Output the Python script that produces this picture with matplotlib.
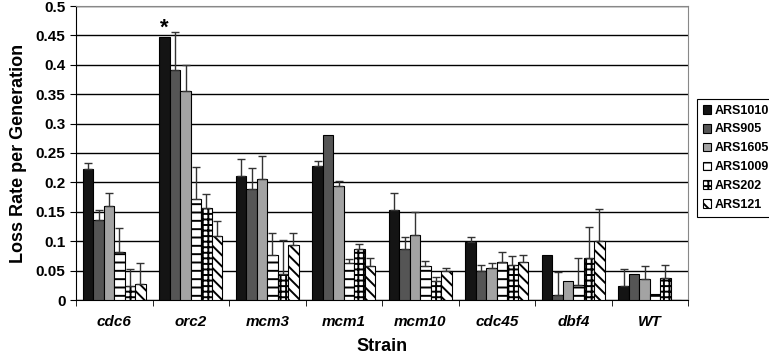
import numpy as np
import matplotlib
matplotlib.use("Agg")
import matplotlib.pyplot as plt

plt.rcParams['font.family'] = ['Liberation Sans', 'DejaVu Sans']
plt.rcParams['hatch.linewidth'] = 1.4

strains = ['cdc6', 'orc2', 'mcm3', 'mcm1', 'mcm10', 'cdc45', 'dbf4', 'WT']
series = ['ARS1010', 'ARS905', 'ARS1605', 'ARS1009', 'ARS202', 'ARS121']

# loss rate per generation, one list per ARS plasmid (order of strains)
ars1010 = [0.223, 0.448, 0.211, 0.228, 0.153, 0.098, 0.077, 0.024]
ars905 = [0.136, 0.392, 0.189, 0.280, 0.087, 0.049, 0.008, 0.045]
ars1605 = [0.160, 0.355, 0.206, 0.194, 0.111, 0.055, 0.032, 0.035]
ars1009 = [0.081, 0.171, 0.077, 0.063, 0.057, 0.065, 0.026, 0.010]
ars202 = [0.024, 0.157, 0.044, 0.087, 0.032, 0.060, 0.071, 0.038]
ars121 = [0.028, 0.109, 0.094, 0.057, 0.050, 0.065, 0.100, 0.0]

# upper error (std dev), nan where no bar is drawn
err1010 = [0.010, np.nan, 0.028, 0.008, 0.029, 0.009, np.nan, 0.028]
err905 = [0.017, 0.064, 0.035, np.nan, 0.020, 0.011, 0.040, np.nan]
err1605 = [0.022, 0.045, 0.039, 0.008, 0.038, 0.008, np.nan, 0.022]
err1009 = [0.041, 0.056, 0.037, 0.007, 0.010, 0.016, 0.045, np.nan]
err202 = [0.029, 0.024, 0.058, 0.008, 0.007, 0.014, 0.054, 0.022]
err121 = [0.035, 0.026, 0.020, 0.014, 0.004, 0.011, 0.055, np.nan]

values = [ars1010, ars905, ars1605, ars1009, ars202, ars121]
errors = [err1010, err905, err1605, err1009, err202, err121]
colors = ['#141414', '#555555', '#a3a3a3', 'white', 'white', 'white']
hatches = [None, None, None, '--', '+++', '\\\\\\']

fig = plt.figure(figsize=(7.69, 3.56), dpi=100)
ax = fig.add_axes([76/769, 1-300/356, (688-76)/769, (300-6)/356])

x = np.arange(len(strains))
w = 0.82 / 6
for i in range(6):
    pos = x - 0.41 + w * (i + 0.5)
    v = np.array(values[i])
    e = np.array(errors[i])
    ax.bar(pos, v, w, color=colors[i], edgecolor='black', linewidth=0.8,
           hatch=hatches[i], label=series[i], zorder=3)
    ok = ~np.isnan(e)
    ax.errorbar(pos[ok], v[ok], yerr=[np.zeros(ok.sum()), e[ok]], fmt='none',
                ecolor='#333333', elinewidth=1, capsize=3, capthick=1, zorder=4)

# star over orc2 / ARS1010
ax.text(x[1] - 0.41 + w * 0.5, ars1010[1] - 0.004, '*', ha='center', va='bottom',
        fontsize=16, fontweight='bold')

ax.set_xlim(-0.5, len(strains) - 0.5)
ax.set_ylim(0, 0.5)
ax.set_yticks(np.arange(0, 0.51, 0.05))
ax.set_yticklabels(['0', '0.05', '0.1', '0.15', '0.2', '0.25', '0.3', '0.35',
                    '0.4', '0.45', '0.5'], fontsize=11, fontweight='bold')
ax.yaxis.grid(True, color='black', linewidth=1)
ax.set_axisbelow(True)

ax.set_xticks(x)
ax.set_xticklabels(strains, fontsize=11, fontweight='bold', style='italic')
ax.tick_params(axis='x', length=0, pad=11)
ax.set_xticks(np.arange(-0.5, len(strains)), minor=True)
ax.tick_params(axis='x', which='minor', length=4, direction='out')
ax.tick_params(axis='y', length=4, direction='out')

ax.spines['top'].set_color('#888888')
ax.spines['right'].set_color('#888888')
ax.spines['left'].set_color('black')
ax.spines['bottom'].set_color('black')

ax.set_ylabel('Loss Rate per Generation', fontsize=13, fontweight='bold', labelpad=6)
ax.set_xlabel('Strain', fontsize=13, fontweight='bold', labelpad=6)

leg = fig.legend(loc='upper left', bbox_to_anchor=(697/769, 1-99/356),
                 prop={'weight': 'bold', 'size': 9}, handlelength=0.7,
                 handleheight=0.7, handletextpad=0.3, labelspacing=0.55,
                 borderpad=0.45, borderaxespad=0, fancybox=False,
                 edgecolor='black', framealpha=1)
leg.get_frame().set_linewidth(0.8)

fig.savefig('out.png', dpi=100)
